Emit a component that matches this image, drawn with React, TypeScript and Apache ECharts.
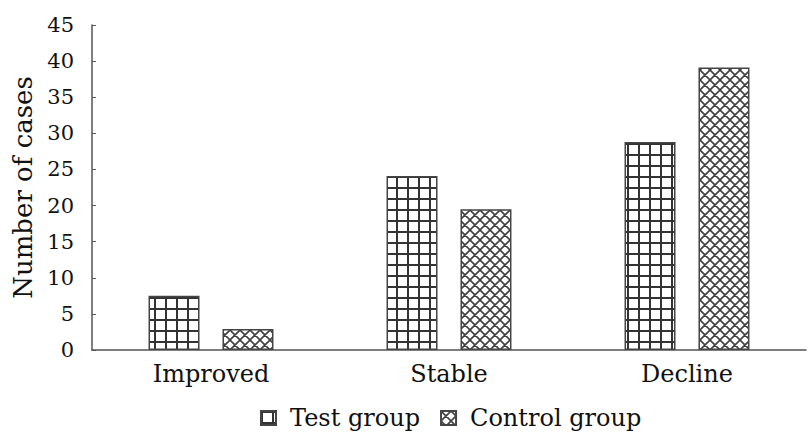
import React, { useEffect, useRef } from "react";
import * as echarts from "echarts";

const categories = ["Improved", "Stable", "Decline"];
const testGroup = [7.5, 24.1, 28.8];
const controlGroup = [2.9, 19.5, 39.1];
const yTicks = { min: 0, max: 45, interval: 5 };

const FONT = "DejaVu Serif";

function gridPattern(): string {
  const c = document.createElement("canvas");
  c.width = 11;
  c.height = 11;
  const ctx = c.getContext("2d")!;
  ctx.fillStyle = "#ffffff";
  ctx.fillRect(0, 0, 11, 11);
  ctx.fillStyle = "#333333";
  ctx.fillRect(0, 0, 11, 2);
  ctx.fillRect(0, 0, 2, 11);
  return c.toDataURL();
}

function crossPattern(): string {
  const s = 10;
  const c = document.createElement("canvas");
  c.width = s;
  c.height = s;
  const ctx = c.getContext("2d")!;
  ctx.fillStyle = "#ffffff";
  ctx.fillRect(0, 0, s, s);
  ctx.strokeStyle = "#404040";
  ctx.lineWidth = 1.6;
  ctx.beginPath();
  for (const off of [-s, 0, s]) {
    ctx.moveTo(-1 + off, -1);
    ctx.lineTo(s + 1 + off, s + 1);
    ctx.moveTo(s + 1 + off, -1);
    ctx.lineTo(-1 + off, s + 1);
  }
  ctx.stroke();
  return c.toDataURL();
}

export default function App() {
  const ref = useRef<HTMLDivElement>(null);
  useEffect(() => {
    if (!ref.current) return;
    const chart = echarts.init(ref.current, null, { renderer: "svg" });
    const gp = { image: gridPattern(), repeat: "repeat", imageWidth: 11, imageHeight: 11 };
    const cp = { image: crossPattern(), repeat: "repeat", imageWidth: 10, imageHeight: 10 };
    const txt = (size: number) => ({ fontFamily: FONT, fontSize: size, color: "#111" });
    chart.setOption({
      animation: false,
      backgroundColor: "#ffffff",
      textStyle: txt(21),
      grid: { left: 92, right: 3, top: 25, bottom: 89, containLabel: false },
      legend: {
        bottom: 4,
        left: 255,
        icon: "rect",
        itemWidth: 15,
        itemHeight: 14,
        itemGap: 20,
        textStyle: { ...txt(24), padding: [0, 0, 0, 9] },
        data: ["Test group", "Control group"],
      },
      xAxis: {
        type: "category",
        data: categories,
        axisLine: { lineStyle: { color: "#555", width: 1.5 } },
        axisTick: { show: false },
        axisLabel: { ...txt(24), margin: 12 },
      },
      yAxis: {
        type: "value",
        min: yTicks.min,
        max: yTicks.max,
        interval: yTicks.interval,
        name: "Number of cases",
        nameLocation: "middle",
        nameGap: 54,
        nameTextStyle: txt(26),
        axisLine: { show: true, lineStyle: { color: "#555", width: 1.5 } },
        axisTick: { show: true, inside: true, length: 4, lineStyle: { color: "#555" } },
        splitLine: { show: false },
        axisLabel: { ...txt(21), margin: 18 },
      },
      series: [
        {
          name: "Test group",
          type: "bar",
          data: testGroup,
          barWidth: 51,
          barGap: "45%",
          itemStyle: { color: gp, borderColor: "#444", borderWidth: 1.5 },
        },
        {
          name: "Control group",
          type: "bar",
          data: controlGroup,
          barWidth: 51,
          itemStyle: { color: cp, borderColor: "#444", borderWidth: 1.5 },
        },
      ],
    });
    return () => chart.dispose();
  }, []);
  return (
    <div
      ref={ref}
      style={{ position: "fixed", left: 0, top: 0, width: 809, height: 439 }}
    />
  );
}
